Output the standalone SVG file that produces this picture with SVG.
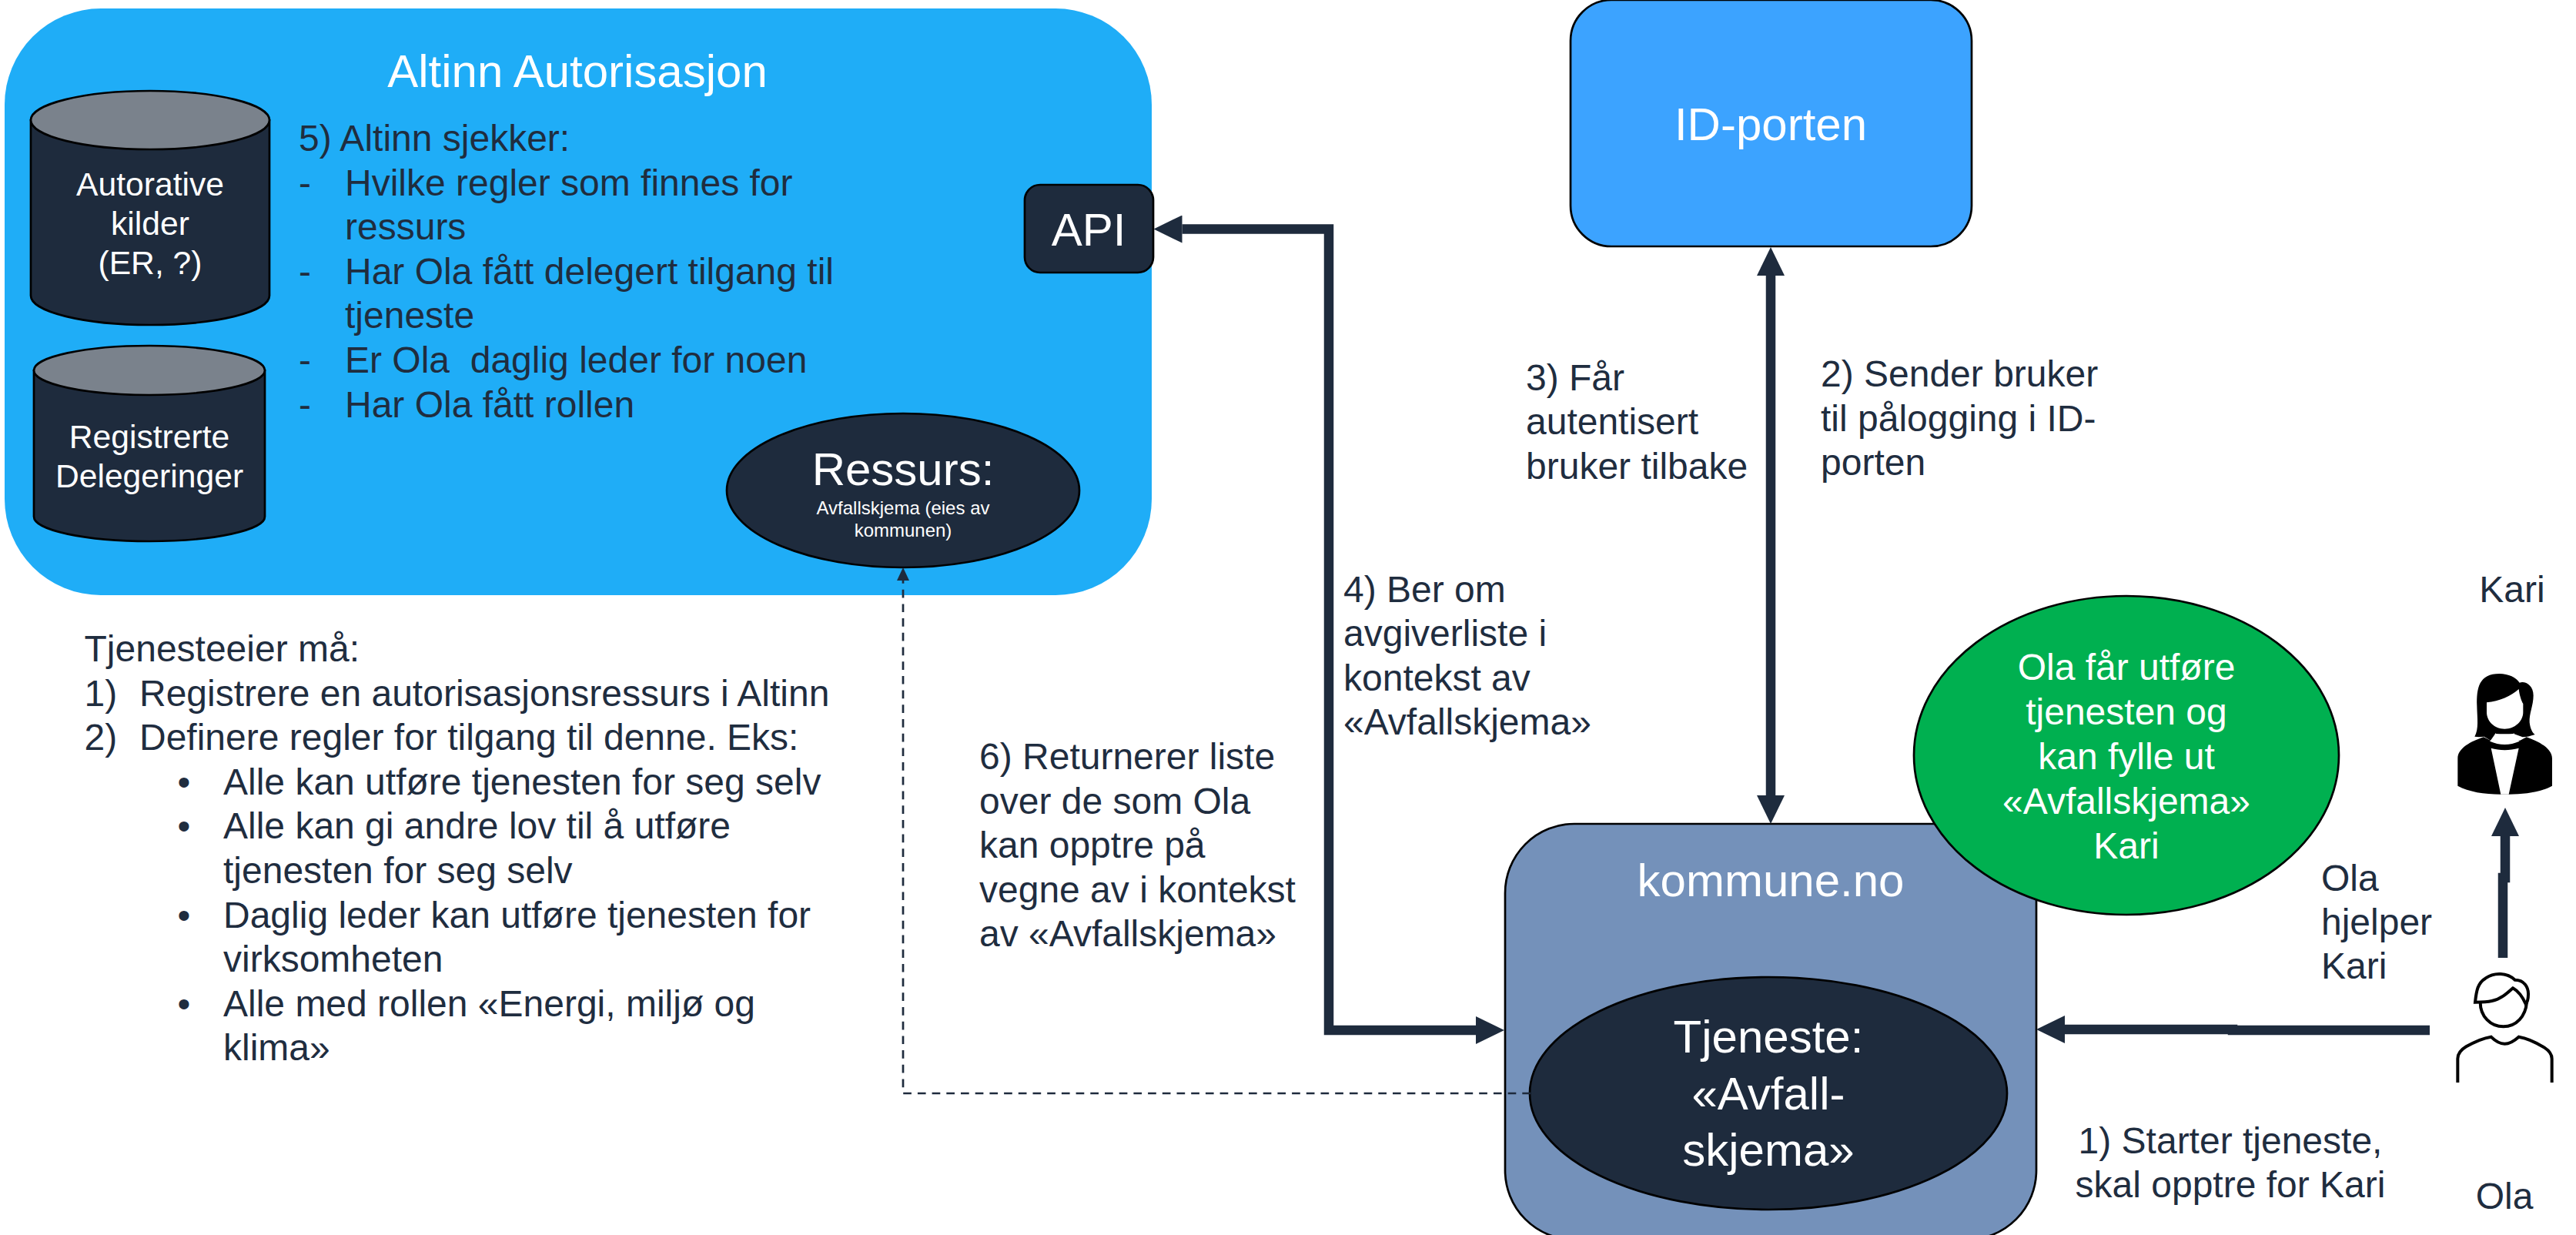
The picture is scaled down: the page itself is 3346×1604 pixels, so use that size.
<svg xmlns="http://www.w3.org/2000/svg" width="3346" height="1604" viewBox="0 0 3346 1604">
<style>
text{font-family:"Liberation Sans",Arial,sans-serif;white-space:pre}
.d{fill:#1f2d3f;font-size:48px}
.w{fill:#fff;text-anchor:middle}
.w60{font-size:60px}.w48{font-size:48px}.w43{font-size:42.67px}.w24{font-size:24px}
.ds{fill:#1e2b3d;stroke:#000;stroke-width:2.7}
.lg{fill:#7a828c;stroke:#000;stroke-width:2.7}
.st{stroke:#000;stroke-width:2.7}
.conn{fill:none;stroke:#1e2b3d;stroke-width:12.5}
</style>
<defs>
<marker id="head" markerUnits="userSpaceOnUse" markerWidth="37" markerHeight="36" refX="0" refY="18" orient="auto-start-reverse" viewBox="0 0 37 36"><path d="M0 0L37 18L0 36Z" fill="#1e2b3d"/></marker>
<marker id="small" markerUnits="userSpaceOnUse" markerWidth="17" markerHeight="16" refX="0" refY="8" orient="auto" viewBox="0 0 17 16"><path d="M0 0L17 8L0 16Z" fill="#1e2b3d"/></marker>
</defs>
<rect width="3346" height="1604" fill="#fff"/>

<g id="altinn">
<rect x="6" y="11" width="1490" height="762" rx="125" ry="125" fill="#1fadf7"/>
<text class="w w60" x="750" y="113">Altinn Autorisasjon</text>
<text class="d"><tspan x="388" y="196">5) Altinn sjekker:</tspan><tspan x="388" y="253.6">-</tspan><tspan x="448" y="253.6">Hvilke regler som finnes for</tspan><tspan x="448" y="311.2">ressurs</tspan><tspan x="388" y="368.8">-</tspan><tspan x="448" y="368.8">Har Ola fått delegert tilgang til</tspan><tspan x="448" y="426.4">tjeneste</tspan><tspan x="388" y="484">-</tspan><tspan x="448" y="484">Er Ola  daglig leder for noen</tspan><tspan x="388" y="541.6">-</tspan><tspan x="448" y="541.6">Har Ola fått rollen</tspan></text>
</g>
<g id="autorative-kilder">
<path class="ds" d="M40 156V384A155 38 0 0 0 350 384V156Z"/>
<ellipse class="lg" cx="195" cy="156" rx="155" ry="38"/>
<text class="w w43"><tspan x="195" y="253.5">Autorative</tspan><tspan x="195" y="305">kilder</tspan><tspan x="195" y="356">(ER, ?)</tspan></text>
</g>
<g id="registrerte-delegeringer">
<path class="ds" d="M44 481V671A150 32 0 0 0 344 671V481Z"/>
<ellipse class="lg" cx="194" cy="481" rx="150" ry="32"/>
<text class="w w43"><tspan x="194" y="581.5">Registrerte</tspan><tspan x="194" y="632.5">Delegeringer</tspan></text>
</g>
<g id="api">
<rect class="ds" x="1331" y="240" width="167" height="114" rx="20" ry="20"/>
<text class="w w60" x="1414" y="319">API</text>
</g>
<g id="ressurs">
<ellipse class="ds" cx="1173" cy="637" rx="229" ry="100"/>
<text class="w w60" x="1173" y="630">Ressurs:</text>
<text class="w w24"><tspan x="1173" y="668">Avfallskjema (eies av</tspan><tspan x="1173" y="696.5">kommunen)</tspan></text>
</g>
<g id="id-porten">
<rect class="st" x="2040" y="0" width="521" height="320" rx="53" ry="53" fill="#3ca3ff"/>
<text class="w w60" x="2300" y="182">ID-porten</text>
</g>
<g id="kommune">
<rect class="st" x="1955" y="1070" width="690" height="540" rx="90" ry="90" fill="#7491ba"/>
<text class="w w60" x="2300" y="1163.5">kommune.no</text>
</g>
<g id="tjeneste">
<ellipse class="ds" cx="2297" cy="1420" rx="310" ry="151"/>
<text class="w w60"><tspan x="2297" y="1367">Tjeneste:</tspan><tspan x="2297" y="1441">«Avfall-</tspan><tspan x="2297" y="1514">skjema»</tspan></text>
</g>
<g id="ola-faar-utfoere">
<ellipse class="st" cx="2762" cy="981" rx="276" ry="207" fill="#00b050"/>
<text class="w w48"><tspan x="2762" y="883.3">Ola får utføre</tspan><tspan x="2762" y="941">tjenesten og</tspan><tspan x="2762" y="999">kan fylle ut</tspan><tspan x="2762" y="1057">«Avfallskjema»</tspan><tspan x="2762" y="1115">Kari</tspan></text>
</g>
<g id="kari">
<text class="d" x="3263" y="782" text-anchor="middle">Kari</text>
<g transform="translate(3120 720) scale(.33333)">
<path d="M217 902V795C217 755 270 728 318 712L345 725H460L485 712C530 728 585 755 585 795V902C545 925 480 935 416 935H385C320 935 260 925 217 902Z"/>
<path d="M283 710C300 680 293 640 292 590C290 520 300 465 380 465C415 465 445 480 458 500C480 492 512 510 512 550C512 590 495 620 497 655C500 680 508 695 518 702C500 708 485 712 470 712L437 700H363L345 725L320 710C305 712 295 712 283 710Z"/>
<path fill="#fff" d="M330 577C380 572 425 552 455 525C458 550 465 570 472 582V615C472 650 440 680 400 680C360 680 330 650 330 615Z"/>
<path fill="#fff" d="M363 697C375 705 425 705 437 697C437 710 445 720 458 728C420 745 380 745 342 728C355 720 363 710 363 697Z"/>
<path fill="#fff" d="M347 755C380 765 420 765 455 755L416 935H385Z"/>
</g>
</g>
<g id="ola">
<g transform="translate(3150 1230) scale(.33333)" fill="none" stroke="#000" stroke-width="12">
<path d="M195 215C200 170 205 140 235 122C270 97 320 100 350 128C385 128 403 155 402 185C402 200 398 215 392 222C380 195 360 170 342 160C320 180 295 203 260 210C240 215 215 215 195 215Z"/>
<path d="M215 215C215 270 255 310 305 310C355 310 392 270 396 215"/>
<path d="M127 528V435C127 415 140 400 160 388C195 368 225 355 257 350C275 368 290 377 310 377C330 377 345 368 365 350C395 355 430 370 465 392C482 403 494 420 494 435V528"/>
</g>
<text class="d" x="3253" y="1570" text-anchor="middle">Ola</text>
</g>

<g id="connectors">
<path class="conn" d="M1917 1338H1726V297.5H1535.5" marker-start="url(#head)" marker-end="url(#head)"/>
<path class="conn" d="M2300 358V1033" marker-start="url(#head)" marker-end="url(#head)"/>
<path class="conn" d="M3156 1338H2900V1337H2682" marker-end="url(#head)"/>
<path class="conn" d="M3251 1244V1140H3254V1086" marker-end="url(#head)"/>
<path d="M1988 1420H1173V754" fill="none" stroke="#1e2b3d" stroke-width="2.7" stroke-dasharray="10.7 8" marker-end="url(#small)"/>
</g>

<g id="labels">
<text class="d"><tspan x="1982" y="506.6">3) Får</tspan><tspan x="1982" y="564.2">autentisert</tspan><tspan x="1982" y="621.8">bruker tilbake</tspan></text>
<text class="d"><tspan x="2365" y="502">2) Sender bruker</tspan><tspan x="2365" y="559.5">til pålogging i ID-</tspan><tspan x="2365" y="617">porten</tspan></text>
<text class="d"><tspan x="1745" y="781.6">4) Ber om</tspan><tspan x="1745" y="839">avgiverliste i</tspan><tspan x="1745" y="896.5">kontekst av</tspan><tspan x="1745" y="954">«Avfallskjema»</tspan></text>
<text class="d"><tspan x="1272" y="999">6) Returnerer liste</tspan><tspan x="1272" y="1056.6">over de som Ola</tspan><tspan x="1272" y="1114.2">kan opptre på</tspan><tspan x="1272" y="1171.8">vegne av i kontekst</tspan><tspan x="1272" y="1229.4">av «Avfallskjema»</tspan></text>
<text class="d"><tspan x="3015" y="1156.5">Ola</tspan><tspan x="3015" y="1214">hjelper</tspan><tspan x="3015" y="1271">Kari</tspan></text>
<text class="d" text-anchor="middle"><tspan x="2897" y="1497.6">1) Starter tjeneste,</tspan><tspan x="2897" y="1555">skal opptre for Kari</tspan></text>
<text class="d"><tspan x="109.5" y="859">Tjenesteeier må:</tspan><tspan x="109.5" y="916.6">1)</tspan><tspan x="181" y="916.6">Registrere en autorisasjonsressurs i Altinn</tspan><tspan x="109.5" y="974.2">2)</tspan><tspan x="181" y="974.2">Definere regler for tilgang til denne. Eks:</tspan><tspan x="230.6" y="1031.8">•</tspan><tspan x="290" y="1031.8">Alle kan utføre tjenesten for seg selv</tspan><tspan x="230.6" y="1089.4">•</tspan><tspan x="290" y="1089.4">Alle kan gi andre lov til å utføre</tspan><tspan x="290" y="1147">tjenesten for seg selv</tspan><tspan x="230.6" y="1204.6">•</tspan><tspan x="290" y="1204.6">Daglig leder kan utføre tjenesten for</tspan><tspan x="290" y="1262.2">virksomheten</tspan><tspan x="230.6" y="1319.8">•</tspan><tspan x="290" y="1319.8">Alle med rollen «Energi, miljø og</tspan><tspan x="290" y="1377.4">klima»</tspan></text>
</g>
</svg>
